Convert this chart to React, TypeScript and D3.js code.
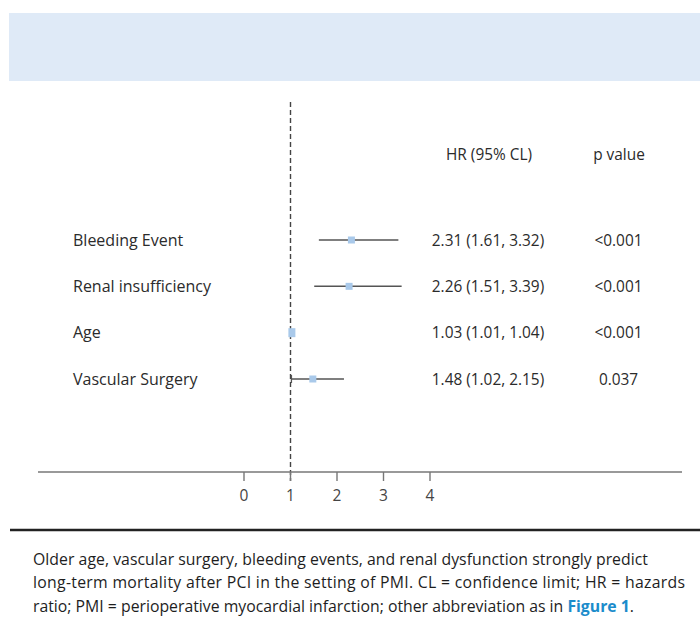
import React from "react";
import * as d3 from "d3";

// Predictors of long-term mortality (hazard ratios with 95% confidence limits)
const predictors = ["Bleeding Event", "Renal insufficiency", "Age", "Vascular Surgery"];
const hr = [2.31, 2.26, 1.03, 1.48];
const lower = [1.61, 1.51, 1.01, 1.02];
const upper = [3.32, 3.39, 1.04, 2.15];
const pValues = ["<0.001", "<0.001", "<0.001", "0.037"];
const xTicks = [0, 1, 2, 3, 4];

const captionLines = [
  "Older age, vascular surgery, bleeding events, and renal dysfunction strongly predict",
  "long-term mortality after PCI in the setting of PMI. CL = confidence limit; HR = hazards",
  "ratio; PMI = perioperative myocardial infarction; other abbreviation as in ",
];
// full-justified widths of the first two caption lines
const captionWidths = [615, 652, null];

const W = 700;
const H = 619;
const FONT = "'Open Sans', 'Noto Sans', sans-serif";
const TEXT = "#2b2b2b";

export default function App() {
  const x = d3.scaleLinear().domain([0, 4]).range([244, 430]);
  const y = d3.scalePoint<string>().domain(predictors).range([240, 379]);
  const axisY = 472;
  const fmt = d3.format(".2f");

  return (
    <svg
      width={W}
      height={H}
      style={{ position: "absolute", left: 0, top: 0, background: "#fff" }}
      fontFamily={FONT}
    >
      {/* header band */}
      <rect x={9} y={13} width={W - 9} height={68} fill="#DFEAF7" />

      {/* column headers */}
      <text x={489} y={160} textAnchor="middle" fontSize={15.4} fill={TEXT}>
        HR (95% CL)
      </text>
      <text x={619} y={160} textAnchor="middle" fontSize={15.4} fill={TEXT}>
        p value
      </text>

      {/* reference line at HR = 1 */}
      <line
        x1={x(1)}
        x2={x(1)}
        y1={102}
        y2={481}
        stroke="#444"
        strokeWidth={1.4}
        strokeDasharray="5,3"
      />

      {/* x axis */}
      <line x1={38} x2={682} y1={axisY} y2={axisY} stroke="#777" strokeWidth={1.6} />
      {xTicks.map((t) => (
        <g key={t}>
          <line x1={x(t)} x2={x(t)} y1={axisY} y2={axisY + 9} stroke="#777" strokeWidth={1.4} />
          <text x={x(t)} y={501} textAnchor="middle" fontSize={15.5} fill="#444">
            {t}
          </text>
        </g>
      ))}

      {/* rows */}
      {predictors.map((p, i) => {
        const cy = y(p)!;
        return (
          <g key={p}>
            <text x={73} y={cy + 5.5} fontSize={16} fill={TEXT}>
              {p}
            </text>
            <line
              x1={x(lower[i])}
              x2={x(upper[i])}
              y1={cy}
              y2={cy}
              stroke="#555"
              strokeWidth={1.5}
            />
            {i === 3 && (
              <line
                x1={x(lower[i])}
                x2={x(lower[i])}
                y1={cy - 4}
                y2={cy + 4}
                stroke="#555"
                strokeWidth={1.3}
              />
            )}
            <rect
              x={x(hr[i]) - 3.5}
              y={cy - (i === 2 ? 4.5 : 3.5)}
              width={7}
              height={i === 2 ? 9 : 7}
              fill="#A9C9EA"
            />
            <text x={488} y={cy + 5.5} textAnchor="middle" fontSize={15.4} fill={TEXT}>
              {`${fmt(hr[i])} (${fmt(lower[i])}, ${fmt(upper[i])})`}
            </text>
            <text x={618.5} y={cy + 5.5} textAnchor="middle" fontSize={15.4} fill={TEXT}>
              {pValues[i]}
            </text>
          </g>
        );
      })}

      {/* bottom rule */}
      <line x1={10} x2={W} y1={530} y2={530} stroke="#222" strokeWidth={2.4} />

      {/* caption */}
      {captionLines.map((line, i) => {
        const tl = captionWidths[i];
        return (
          <text
            key={i}
            x={33}
            y={564.5 + i * 23.5}
            fontSize={15.8}
            fill="#1e1e1e"
            {...(tl ? { textLength: tl, lengthAdjust: "spacing" } : {})}
          >
            {line}
            {i === 2 && (
              <tspan fill="#1B8CCB" fontWeight="bold">
                Figure 1
              </tspan>
            )}
            {i === 2 && "."}
          </text>
        );
      })}
    </svg>
  );
}
